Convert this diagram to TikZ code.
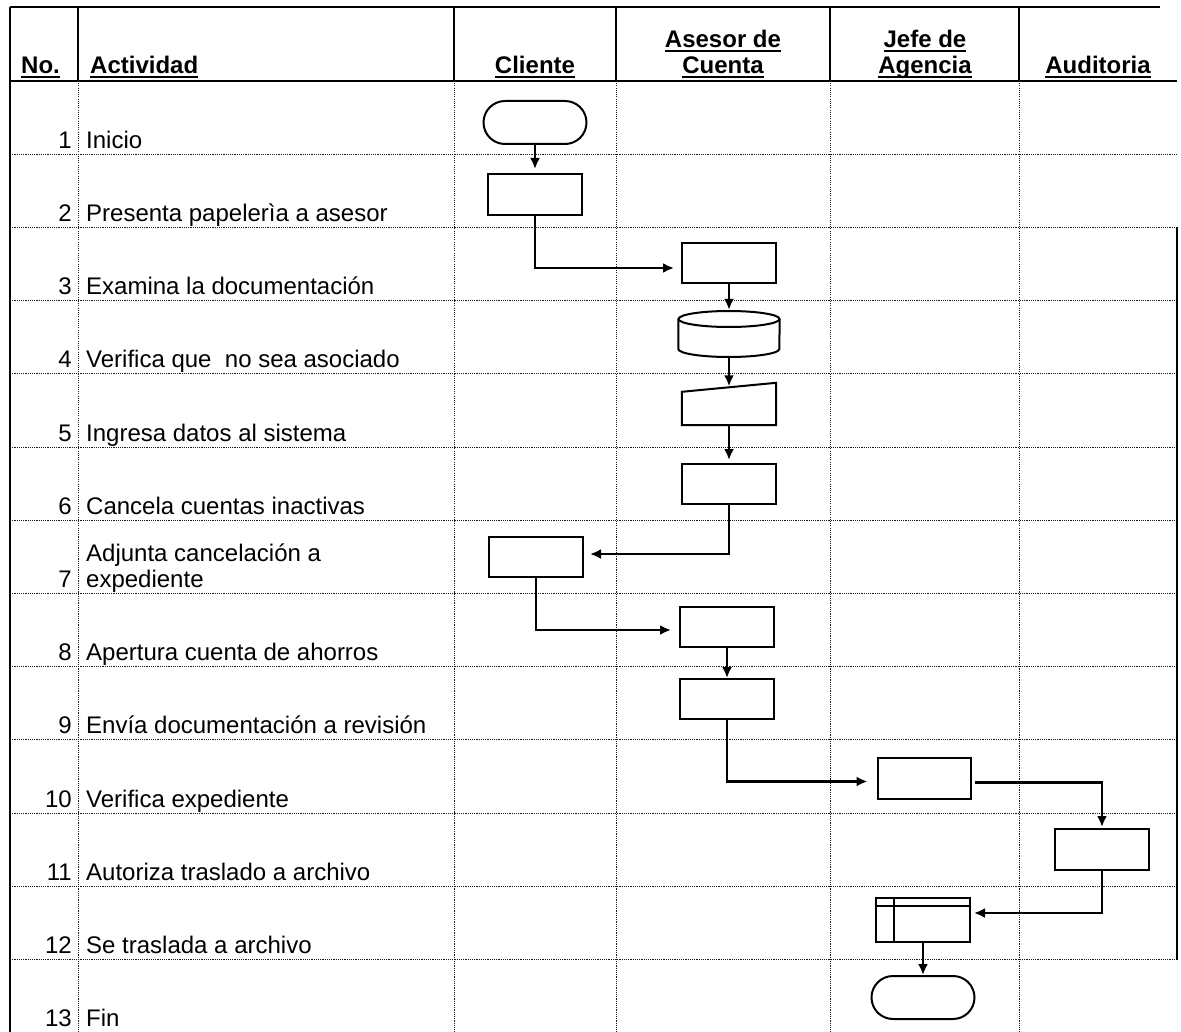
\documentclass[tikz,border=0pt]{standalone}
\usepackage{fontspec}
\setmainfont{Liberation Sans}
\usetikzlibrary{arrows.meta,shapes.misc}

% bold header word with a heavy underline at a fixed depth
\newcommand\hdrline[1]{\setbox0=\hbox{#1}\rlap{\rule[-4.3pt]{\wd0}{2pt}}\box0}

\begin{document}
\begin{tikzpicture}[x=1pt,y=-1pt,
  lbl/.style={font=\fontsize{24}{26}\selectfont, inner sep=0pt},
  hdr/.style={font=\bfseries\fontsize{24}{26}\selectfont, inner sep=0pt},
  solidrule/.style={line width=1.4pt},
  dotrule/.style={line width=1pt, dash pattern=on 1.1pt off 1.1pt, black!90},
  proc/.style={draw, line width=2pt, rectangle, inner sep=0pt},
  term/.style={draw, line width=2pt, rounded rectangle, inner sep=0pt},
  ghost/.style={rectangle, inner sep=0pt},
  shapeline/.style={line width=2pt},
  flow/.style={line width=2.2pt, -{Latex[length=11pt,width=10pt]}},
]
\useasboundingbox (0,0) rectangle (1181,1032);

% ---------- table frame ----------
\draw[solidrule] (10,7) -- (1160,7);
\draw[solidrule] (10,7) -- (10,1032);
\draw[solidrule] (10,81) -- (1177,81);
\foreach \cx in {78,454,616,830,1019} {
  \draw[solidrule] (\cx,7) -- (\cx,81);
  \draw[dotrule] (\cx,81) -- (\cx,1032);
}
\foreach \k in {1,...,12} {
  \draw[dotrule] (10,81+73.2*\k) -- (1177,81+73.2*\k);
}
\draw[solidrule] (1177,227.4) -- (1177,960);

% ---------- headers ----------
\node[hdr, anchor=base west] (hno)  at (21,74)  {\hdrline{No.}};
\node[hdr, anchor=base west] (hact) at (90,74)  {\hdrline{Actividad}};
\node[hdr, anchor=base] (hcli) at (535,74) {\hdrline{Cliente}};
\node[hdr, anchor=base] (hase1) at (723,48) {\hdrline{Asesor de}};
\node[hdr, anchor=base] (hase2) at (723,74) {\hdrline{Cuenta}};
\node[hdr, anchor=base] (hjef1) at (925,48) {\hdrline{Jefe de}};
\node[hdr, anchor=base] (hjef2) at (925,74) {\hdrline{Agencia}};
\node[hdr, anchor=base] (haud) at (1098,74) {\hdrline{Auditoria}};

% ---------- activity rows ----------
\foreach \k/\txt in {1/Inicio, 2/Presenta papelerìa a asesor, 3/Examina la documentación,
  4/Verifica que\ \ no sea asociado, 5/Ingresa datos al sistema, 6/Cancela cuentas inactivas,
  7/expediente, 8/Apertura cuenta de ahorros, 9/Envía documentación a revisión,
  10/Verifica expediente, 11/Autoriza traslado a archivo, 12/Se traslada a archivo, 13/Fin} {
  \node[lbl, anchor=base east] (n\k) at (72,75+73.2*\k) {\k};
  \node[lbl, anchor=base west] (a\k) at (86,75+73.2*\k) {\txt};
}
\node[lbl, anchor=base west] (a7top) at (86,75+73.2*7-26) {Adjunta cancelación a};

% ---------- flow symbols ----------
\node[term, minimum width=103pt, minimum height=43pt] (t1) at (535,122.5) {};
\node[proc, minimum width=94pt, minimum height=41pt] (b2) at (535,194.5) {};
\node[proc, minimum width=94pt, minimum height=40pt] (b3) at (729,263) {};
% database cylinder
\node[ghost, minimum width=101pt, minimum height=46pt] (c4) at (729,334) {};
\draw[shapeline] (c4.west |- 0,319) -- (c4.west |- 0,349)
  arc[start angle=180, end angle=0, x radius=50.5, y radius=8] -- (c4.east |- 0,319);
\draw[shapeline] (c4.center |- 0,319) ellipse[x radius=50.5, y radius=8];
% manual input (slanted top)
\node[ghost, minimum width=94pt, minimum height=37.5pt] (m5) at (729,406.25) {};
\draw[shapeline] (m5.south west) -- ([yshift=-4.5pt]m5.north west)
  -- ([yshift=4.5pt]m5.north east) -- (m5.south east) -- cycle;
\node[proc, minimum width=94pt, minimum height=40pt] (b6) at (729,484) {};
\node[proc, minimum width=94pt, minimum height=40pt] (b7) at (536,557) {};
\node[proc, minimum width=94pt, minimum height=40pt] (b8) at (727,627) {};
\node[proc, minimum width=94pt, minimum height=40pt] (b9) at (727,699) {};
\node[proc, minimum width=93pt, minimum height=41pt] (b10) at (924,778.5) {};
\node[proc, minimum width=94pt, minimum height=41pt] (b11) at (1102,849.5) {};
% internal storage
\node[proc, minimum width=94pt, minimum height=44pt] (s12) at (923,920) {};
\draw[shapeline] ([yshift=-9pt]s12.north west) -- ([yshift=-9pt]s12.north east);
\draw[shapeline] ([xshift=19pt]s12.north west) -- ([xshift=19pt]s12.south west);
\node[term, minimum width=103pt, minimum height=43pt] (t13) at (923,997.5) {};

% ---------- connectors ----------
\draw[flow, shorten >=4pt] (t1.south) -- (b2.north);
\draw[flow, shorten >=7pt] (b2.south) |- ([yshift=-5pt]b3.west);
\draw[flow, shorten >=1pt] (b3.south) -- (c4.north);
\draw[flow, shorten >=1pt] (c4.south) -- (m5.north);
\draw[flow, shorten >=3pt] (m5.south) -- (b6.north);
\draw[flow, shorten >=6pt] (b6.south) |- ([yshift=3pt]b7.east);
\draw[flow, shorten >=8pt] (b7.south) |- ([yshift=-3pt]b8.west);
\draw[flow] (b8.south) -- (b9.north);
\draw[flow, shorten >=9pt] (b9.south) |- ([yshift=-3pt]b10.west);
\draw[flow, shorten <=3pt, shorten >=1pt] ([yshift=-4pt]b10.east) -| (b11.north);
\draw[flow, shorten >=3pt] (b11.south) |- ([yshift=7pt]s12.east);
\draw[flow] (s12.south) -- (t13.north);
\end{tikzpicture}
\end{document}
